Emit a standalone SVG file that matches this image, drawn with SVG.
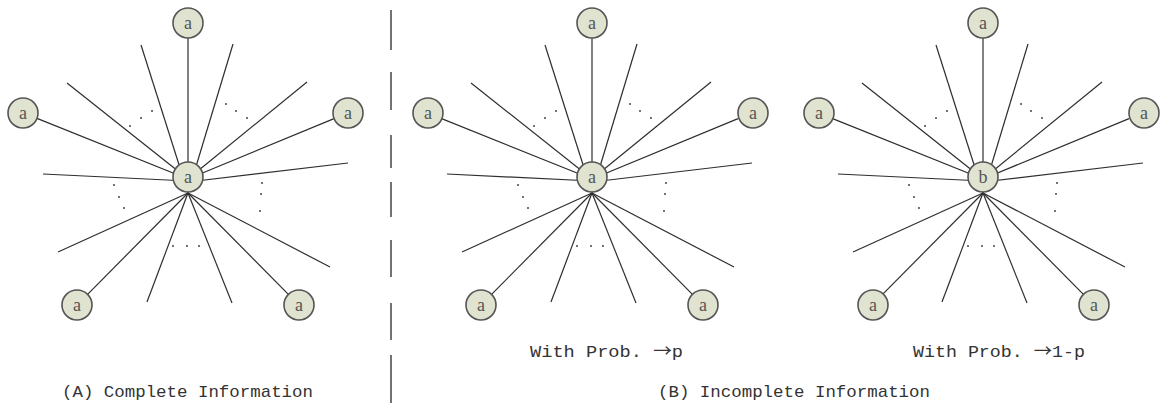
<svg xmlns="http://www.w3.org/2000/svg" xmlns:xlink="http://www.w3.org/1999/xlink" width="1160" height="406" viewBox="0 0 1160 406">
<style>
.sp{stroke:#2e2e2e;stroke-width:1.2;fill:none}
.dot{fill:#444}
.nd circle{fill:#dfe3cf;stroke:#555;stroke-width:1.6}
.nd text{font-family:"Liberation Serif",serif;font-size:18px;fill:#555;text-anchor:middle}
.lbl{font-family:"Liberation Mono",monospace;font-size:17px;fill:#333}
.arr{font-family:"Noto Sans CJK SC",sans-serif}
.div{stroke:#444;stroke-width:1.5}
</style>
<defs>
<g id="spokes">
<line class="sp" x1="0" y1="-139" x2="0" y2="2"/>
<line class="sp" x1="-47" y1="-132" x2="0" y2="16"/>
<line class="sp" x1="45" y1="-133" x2="0" y2="16"/>
<line class="sp" x1="-121" y1="-94" x2="0" y2="2"/>
<line class="sp" x1="119" y1="-95" x2="0" y2="2"/>
<line class="sp" x1="-151" y1="-58.6" x2="0" y2="2"/>
<line class="sp" x1="146" y1="-58.4" x2="0" y2="2"/>
<line class="sp" x1="-145" y1="-3" x2="0" y2="4"/>
<line class="sp" x1="160" y1="-14" x2="0" y2="5"/>
<line class="sp" x1="-130" y1="75" x2="0" y2="16"/>
<line class="sp" x1="142" y1="90" x2="0" y2="16"/>
<line class="sp" x1="-100.4" y1="117.3" x2="0" y2="16"/>
<line class="sp" x1="100.4" y1="117.3" x2="0" y2="16"/>
<line class="sp" x1="-41" y1="125" x2="0" y2="16"/>
<line class="sp" x1="44" y1="126" x2="0" y2="16"/>
<circle class="dot" cx="-36" cy="-66" r="1"/><circle class="dot" cx="-47" cy="-59" r="1"/><circle class="dot" cx="-58" cy="-51" r="1"/>
<circle class="dot" cx="38" cy="-73" r="1"/><circle class="dot" cx="48" cy="-66" r="1"/><circle class="dot" cx="59" cy="-59" r="1"/>
<circle class="dot" cx="-74" cy="8" r="1"/><circle class="dot" cx="-69" cy="20" r="1"/><circle class="dot" cx="-64" cy="31" r="1"/>
<circle class="dot" cx="74" cy="6" r="1"/><circle class="dot" cx="73" cy="17" r="1"/><circle class="dot" cx="72" cy="34" r="1"/>
<circle class="dot" cx="-15" cy="69" r="1"/><circle class="dot" cx="-1" cy="69" r="1"/><circle class="dot" cx="11" cy="69" r="1"/>
</g>
</defs>
<rect width="1160" height="406" fill="#fff"/>
<g id="connectors">
<use xlink:href="#spokes" href="#spokes" transform="translate(188,177)"/>
<use xlink:href="#spokes" href="#spokes" transform="translate(592,177)"/>
<use xlink:href="#spokes" href="#spokes" transform="translate(983,177)"/>
</g>
<g id="divider">
<line class="div" x1="391" y1="10" x2="391" y2="50"/>
<line class="div" x1="391" y1="72" x2="391" y2="110"/>
<line class="div" x1="391" y1="135" x2="391" y2="168"/>
<line class="div" x1="391" y1="182" x2="391" y2="217"/>
<line class="div" x1="391" y1="240" x2="391" y2="277"/>
<line class="div" x1="391" y1="303" x2="391" y2="340"/>
<line class="div" x1="391" y1="355" x2="391" y2="403"/>
</g>
<!-- Star A -->
<g id="a-center" class="nd"><circle cx="188" cy="177" r="15"/><text x="188" y="183">a</text></g>
<g id="a-top" class="nd"><circle cx="188" cy="23" r="15"/><text x="188" y="29">a</text></g>
<g id="a-left" class="nd"><circle cx="23" cy="113" r="15"/><text x="23" y="119">a</text></g>
<g id="a-right" class="nd"><circle cx="348" cy="113" r="15"/><text x="348" y="119">a</text></g>
<g id="a-bl" class="nd"><circle cx="77" cy="305" r="15"/><text x="77" y="311">a</text></g>
<g id="a-br" class="nd"><circle cx="299" cy="305" r="15"/><text x="299" y="311">a</text></g>
<!-- Star B1 -->
<g id="b1-center" class="nd"><circle cx="592" cy="177" r="15"/><text x="592" y="183">a</text></g>
<g id="b1-top" class="nd"><circle cx="592" cy="23" r="15"/><text x="592" y="29">a</text></g>
<g id="b1-left" class="nd"><circle cx="428" cy="113" r="15"/><text x="428" y="119">a</text></g>
<g id="b1-right" class="nd"><circle cx="753" cy="113" r="15"/><text x="753" y="119">a</text></g>
<g id="b1-bl" class="nd"><circle cx="481" cy="305" r="15"/><text x="481" y="311">a</text></g>
<g id="b1-br" class="nd"><circle cx="703" cy="305" r="15"/><text x="703" y="311">a</text></g>
<!-- Star B2 -->
<g id="b2-center" class="nd"><circle cx="983" cy="177" r="15"/><text x="983" y="183">b</text></g>
<g id="b2-top" class="nd"><circle cx="983" cy="23" r="15"/><text x="983" y="29">a</text></g>
<g id="b2-left" class="nd"><circle cx="819" cy="113" r="15"/><text x="819" y="119">a</text></g>
<g id="b2-right" class="nd"><circle cx="1144" cy="113" r="15"/><text x="1144" y="119">a</text></g>
<g id="b2-bl" class="nd"><circle cx="873" cy="305" r="15"/><text x="873" y="311">a</text></g>
<g id="b2-br" class="nd"><circle cx="1094" cy="305" r="15"/><text x="1094" y="311">a</text></g>
<g id="labels">
<text class="lbl" x="530" y="357" textLength="153" lengthAdjust="spacingAndGlyphs">With Prob. <tspan class="arr">→</tspan>p</text>
<text class="lbl" x="913" y="357" textLength="172" lengthAdjust="spacingAndGlyphs">With Prob. <tspan class="arr">→</tspan>1-p</text>
<text class="lbl" x="62" y="397" textLength="251" lengthAdjust="spacingAndGlyphs">(A) Complete Information</text>
<text class="lbl" x="658" y="397" textLength="272" lengthAdjust="spacingAndGlyphs">(B) Incomplete Information</text>
</g>
</svg>
